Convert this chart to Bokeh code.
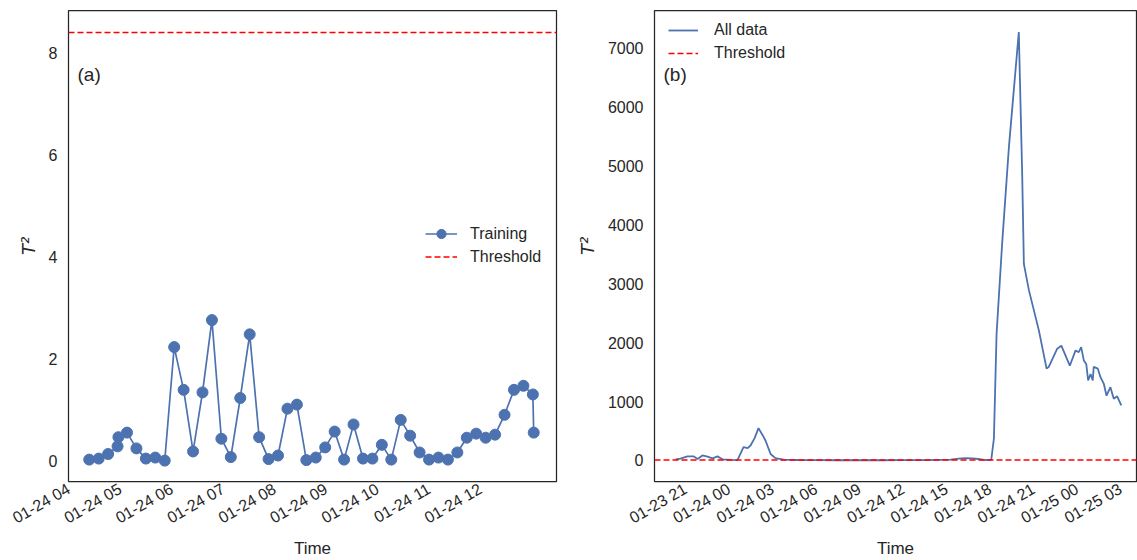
import math
import pandas as pd
from bokeh.plotting import figure
from bokeh.layouts import row
from bokeh.models import (Range1d, FixedTicker, DatetimeTickFormatter,
                          Legend, LegendItem, Label)
from bokeh.embed import file_html
from bokeh.resources import INLINE

# ---------------- data ----------------
YEAR = "2018-"
train_times = ["01-24 04:24", "01-24 04:35", "01-24 04:46", "01-24 04:57", "01-24 04:58",
               "01-24 05:08", "01-24 05:19", "01-24 05:30", "01-24 05:41", "01-24 05:52",
               "01-24 06:03", "01-24 06:14", "01-24 06:25", "01-24 06:36", "01-24 06:47",
               "01-24 06:58", "01-24 07:09", "01-24 07:20", "01-24 07:31", "01-24 07:42",
               "01-24 07:53", "01-24 08:04", "01-24 08:15", "01-24 08:26", "01-24 08:37",
               "01-24 08:48", "01-24 08:59", "01-24 09:10", "01-24 09:21", "01-24 09:32",
               "01-24 09:43", "01-24 09:54", "01-24 10:05", "01-24 10:16", "01-24 10:27",
               "01-24 10:38", "01-24 10:49", "01-24 11:00", "01-24 11:11", "01-24 11:22",
               "01-24 11:33", "01-24 11:44", "01-24 11:55", "01-24 12:06", "01-24 12:17",
               "01-24 12:28", "01-24 12:39", "01-24 12:50", "01-24 13:01", "01-24 13:02"]
train_t2 = [0.02, 0.04, 0.13, 0.28, 0.46, 0.55, 0.24, 0.04, 0.06, 0.00,
            2.23, 1.39, 0.18, 1.34, 2.76, 0.43, 0.07, 1.23, 2.48, 0.46,
            0.03, 0.10, 1.02, 1.10, 0.01, 0.06, 0.26, 0.57, 0.02, 0.71,
            0.04, 0.04, 0.31, 0.02, 0.80, 0.49, 0.16, 0.02, 0.06, 0.02,
            0.16, 0.45, 0.53, 0.45, 0.51, 0.90, 1.39, 1.47, 1.30, 0.55]

all_times = ["01-23 20:19", "01-23 20:39", "01-23 21:08", "01-23 21:33", "01-23 21:50",
             "01-23 22:10", "01-23 22:31", "01-23 22:52", "01-23 23:12", "01-23 23:33",
             "01-24 00:06", "01-24 00:35", "01-24 01:00", "01-24 01:17", "01-24 01:29",
             "01-24 01:46", "01-24 02:02", "01-24 02:19", "01-24 02:31", "01-24 02:52",
             "01-24 03:12", "01-24 03:46", "01-24 04:46", "01-24 06:00", "01-24 07:30",
             "01-24 09:00", "01-24 10:30", "01-24 12:00", "01-24 13:30", "01-24 15:17",
             "01-24 15:50", "01-24 16:19", "01-24 16:48", "01-24 17:12", "01-24 17:41",
             "01-24 18:05", "01-24 18:16", "01-24 18:27", "01-24 18:50", "01-24 19:18",
             "01-24 19:59", "01-24 20:13", "01-24 20:20", "01-24 20:41", "01-24 21:22",
             "01-24 21:54", "01-24 22:03", "01-24 22:38", "01-24 22:55", "01-24 23:30",
             "01-24 23:54", "01-25 00:07", "01-25 00:17", "01-25 00:28", "01-25 00:38",
             "01-25 00:46", "01-25 00:56", "01-25 01:05", "01-25 01:09", "01-25 01:26",
             "01-25 01:37", "01-25 01:51", "01-25 02:02", "01-25 02:18", "01-25 02:32",
             "01-25 02:46", "01-25 03:03"]
all_t2 = [20, 30, 70, 70, 25, 85, 65, 35, 70, 20,
          10, 5, 225, 210, 255, 380, 550, 430, 340, 110,
          40, 15, 8, 5, 4, 5, 4, 6, 5, 15,
          30, 40, 35, 25, 8, 10, 370, 2150, 3680, 5320,
          7280, 4870, 3340, 2890, 2210, 1560, 1590, 1900, 1950, 1610,
          1870, 1840, 1925, 1700, 1640, 1360, 1470, 1360, 1590, 1560,
          1415, 1300, 1100, 1245, 1050, 1090, 935]

threshold = 8.41

left_ticks = ["01-24 04:00", "01-24 05:00", "01-24 06:00", "01-24 07:00", "01-24 08:00",
              "01-24 09:00", "01-24 10:00", "01-24 11:00", "01-24 12:00"]
right_ticks = ["01-23 21:00", "01-24 00:00", "01-24 03:00", "01-24 06:00", "01-24 09:00",
               "01-24 12:00", "01-24 15:00", "01-24 18:00", "01-24 21:00", "01-25 00:00",
               "01-25 03:00"]
left_yticks = [0, 2, 4, 6, 8]
right_yticks = [0, 1000, 2000, 3000, 4000, 5000, 6000, 7000]

left_xlim = ("01-24 03:59:50", "01-24 13:28:33")
right_xlim = ("01-23 18:51:43", "01-25 04:06:00")
left_ylim = (-0.41, 8.84)
right_ylim = (-357, 7645)

# ---------------- helpers ----------------
def ts(s):
    return pd.Timestamp(YEAR + s)

def ms(s):
    return ts(s).value / 1e6

BLUE = "#4c72b0"
TXT = "#262626"
FONT = "Liberation Sans"
DASH = "6 3"
fmt = DatetimeTickFormatter(hours="%m-%d %H", days="%m-%d %H", hourmin="%m-%d %H",
                            minutes="%m-%d %H", months="%m-%d %H")


def style(p, xticks, yticks):
    p.xaxis.ticker = FixedTicker(ticks=[ms(t) for t in xticks])
    p.yaxis.ticker = FixedTicker(ticks=yticks)
    p.xaxis.formatter = fmt
    p.xaxis.major_label_orientation = math.pi / 6
    p.grid.visible = False
    p.outline_line_color = TXT
    p.outline_line_width = 1.25
    p.outline_line_alpha = 1.0
    for ax in (p.xaxis, p.yaxis):
        ax.axis_line_color = None
        ax.major_tick_line_color = None
        ax.minor_tick_line_color = None
        ax.major_tick_out = 0
        ax.major_tick_in = 0
        ax.minor_tick_out = 0
        ax.minor_tick_in = 0
        ax.major_label_text_font = FONT
        ax.major_label_text_font_size = "16px"
        ax.major_label_text_color = TXT
        ax.axis_label_text_color = TXT
    p.xaxis.axis_label = "Time"
    p.xaxis.axis_label_text_font = FONT
    p.xaxis.axis_label_text_font_size = "17px"
    p.xaxis.axis_label_text_font_style = "normal"
    p.xaxis.major_label_standoff = 6
    p.xaxis.axis_label_standoff = 2
    p.yaxis.axis_label = "T²"
    p.yaxis.axis_label_text_font = "DejaVu Sans"
    p.yaxis.axis_label_text_font_size = "18px"
    p.yaxis.axis_label_text_font_style = "italic"
    p.yaxis.major_label_standoff = 11
    p.yaxis.axis_label_standoff = 7
    p.background_fill_color = "white"
    p.border_fill_color = "white"


def make_legend(items, loc, gw, gh, sp, so):
    return Legend(items=items, location=loc, border_line_color=None,
                  background_fill_alpha=0, padding=0, margin=0, spacing=sp,
                  glyph_width=gw, glyph_height=gh, label_height=gh,
                  label_standoff=so, label_text_font=FONT,
                  label_text_font_size="16px", label_text_color=TXT)


# ---------------- left panel ----------------
xr1 = Range1d(ts(left_xlim[0]), ts(left_xlim[1]))
p1 = figure(frame_width=488, frame_height=471, x_axis_type="datetime",
            x_range=xr1, y_range=Range1d(*left_ylim),
            output_backend="svg", toolbar_location=None,
            min_border_left=68, min_border_right=12, min_border_top=10, min_border_bottom=79)
style(p1, left_ticks, left_yticks)
tx = [ts(t) for t in train_times]
l1 = p1.line(tx, train_t2, line_color=BLUE, line_width=1.7)
s1 = p1.scatter(tx, train_t2, size=11, fill_color=BLUE, line_color=BLUE)
th1 = p1.line([ts(left_xlim[0]), ts(left_xlim[1])], [threshold, threshold],
              line_color="red", line_dash=DASH, line_width=1.5)
p1.add_layout(make_legend([LegendItem(label="Training", renderers=[l1, s1]),
                           LegendItem(label="Threshold", renderers=[th1])],
                          (357, 213), 32, 23, 0, 13))
p1.add_layout(Label(x=9, y=407, x_units="screen", y_units="screen", text="(a)",
                    text_font=FONT, text_font_size="19px", text_color=TXT,
                    text_baseline="middle"))

# ---------------- right panel ----------------
p2 = figure(frame_width=482, frame_height=471, x_axis_type="datetime",
            x_range=Range1d(ts(right_xlim[0]), ts(right_xlim[1])),
            y_range=Range1d(*right_ylim),
            output_backend="svg", toolbar_location=None,
            min_border_left=86, min_border_right=1, min_border_top=10, min_border_bottom=79)
style(p2, right_ticks, right_yticks)
ax_ = [ts(t) for t in all_times]
l2 = p2.line(ax_, all_t2, line_color=BLUE, line_width=1.8)
th2 = p2.line([ts(right_xlim[0]), ts(right_xlim[1])], [threshold, threshold],
              line_color="red", line_dash=DASH, line_width=1.5)
p2.add_layout(make_legend([LegendItem(label="All data", renderers=[l2]),
                           LegendItem(label="Threshold", renderers=[th2])],
                          (14, 418), 30, 20, 3, 16))
p2.add_layout(Label(x=9, y=407, x_units="screen", y_units="screen", text="(b)",
                    text_font=FONT, text_font_size="19px", text_color=TXT,
                    text_baseline="middle"))

layout = row(p1, p2, spacing=0)
open("out.html", "w").write(file_html(layout, INLINE))
